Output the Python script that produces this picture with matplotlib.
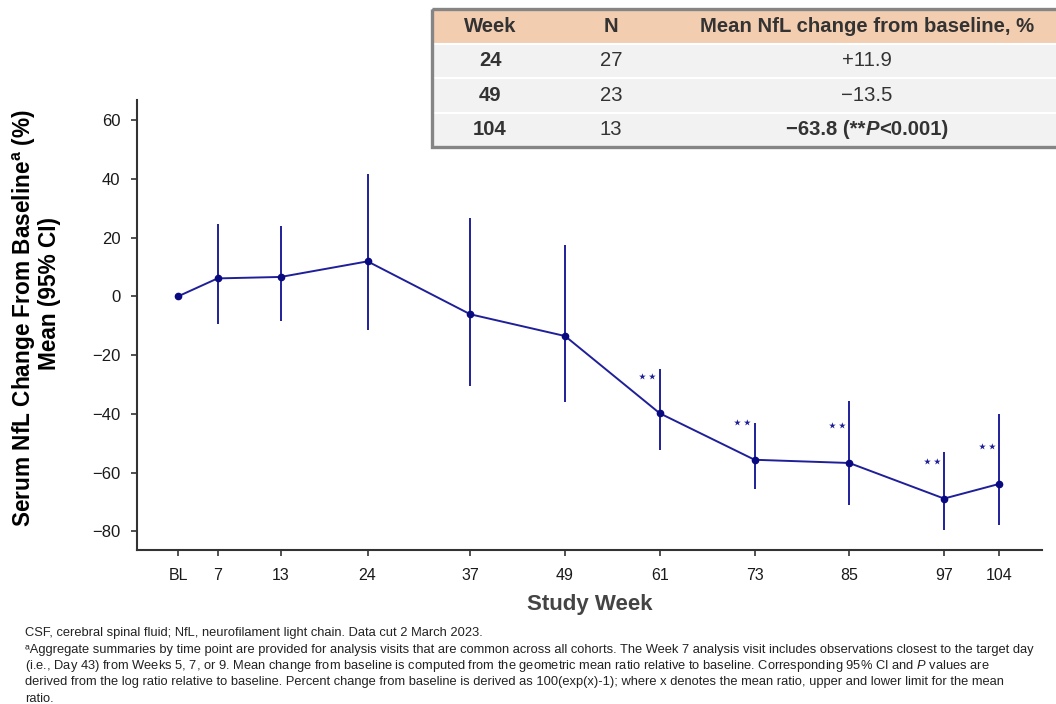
import matplotlib
matplotlib.use("Agg")
import matplotlib.pyplot as plt
from matplotlib.patches import Rectangle

plt.rcParams['font.family'] = ['Liberation Sans', 'DejaVu Sans']
plt.rcParams['mathtext.fontset'] = 'custom'
plt.rcParams['mathtext.rm'] = 'Liberation Sans'
plt.rcParams['mathtext.bf'] = 'Liberation Sans:bold'
plt.rcParams['mathtext.it'] = 'Liberation Sans:italic'

# Study visits; the Week 7 visit pools Weeks 5-9 and is plotted at week 5
visit_labels = ['BL', '7', '13', '24', '37', '49', '61', '73', '85', '97', '104']
visit_pos = [0, 5, 13, 24, 37, 49, 61, 73, 85, 97, 104]

# Mean % change from baseline with 95% CI
mean_change = [0.0, 6.1, 6.6, 11.9, -6.1, -13.5, -39.8, -55.6, -56.7, -68.8, -63.8]
ci_upper = [0.0, 24.7, 24.1, 41.6, 26.8, 17.4, -24.7, -43.2, -35.6, -52.8, -40.1]
ci_lower = [0.0, -9.5, -8.3, -11.6, -30.6, -36.0, -52.2, -65.4, -71.0, -79.4, -77.8]
significant = [False, False, False, False, False, False, True, True, True, True, True]

# Summary table
tbl_header = ['Week', 'N', 'Mean NfL change from baseline, %']
tbl_week = ['24', '49', '104']
tbl_n = ['27', '23', '13']
tbl_mean = ['+11.9', '\u221213.5', None]
tbl_last = ['\u221263.8 (**', 'P', '<0.001)']

LINE = '#1f1f9a'
DOT = '#0a0a80'
AXC = '#333333'
TXT = '#333333'

fig = plt.figure(figsize=(10.56, 7.04), dpi=100)
ax = fig.add_axes([137 / 1056, 1 - 550 / 704, (1042 - 137) / 1056, 450 / 704])

ax.vlines(visit_pos[1:], ci_lower[1:], ci_upper[1:], color=LINE, lw=1.4, zorder=2)
ax.plot(visit_pos, mean_change, color=LINE, lw=1.4, marker='o', ms=4.5,
        mfc=DOT, mec=DOT, zorder=3)

# significance stars sit a fixed distance above the mean, just left of the bar
for x, m, sig in zip(visit_pos, mean_change, significant):
    if sig:
        ax.text(x - 0.1, m + 12.3, '\u22c6\u22c6', ha='right', va='center',
                fontsize=12.5, color=LINE, family=['DejaVu Sans'])

ax.set_xlim(-5.2, 109.4)
ax.set_ylim(-86.3, 66.8)
ax.set_xticks(visit_pos)
ax.set_xticklabels(visit_labels, fontsize=11.5)
ax.set_yticks(range(-80, 61, 20))
ax.set_yticklabels([str(v).replace('-', '\u2212') for v in range(-80, 61, 20)], fontsize=12)
ax.tick_params(axis='both', direction='out', length=4, width=1.2, color=AXC,
               labelcolor='#1a1a1a')
ax.tick_params(axis='x', pad=9)
ax.tick_params(axis='y', pad=8)
for side in ['top', 'right']:
    ax.spines[side].set_visible(False)
for side in ['left', 'bottom']:
    ax.spines[side].set_color(AXC)
    ax.spines[side].set_linewidth(1.5)

ax.set_xlabel('Study Week', fontsize=16, fontweight='bold', color='#444444', labelpad=8)
fig.text(24 / 1056, 1 - 318 / 704, r'Serum NfL Change From Baseline$^{\mathbf{a}}$ (%)',
         rotation=90, ha='center', va='center', fontsize=16.3, fontweight='bold')
fig.text(50 / 1056, 1 - 293 / 704, 'Mean (95% CI)',
         rotation=90, ha='center', va='center', fontsize=16.3, fontweight='bold')

# Summary table drawn in pixel units
tx = fig.add_axes([0, 0, 1, 1], zorder=5)
tx.set_xlim(0, 1056)
tx.set_ylim(704, 0)
tx.axis('off')
top, row_h = 9, 34.5
left, right = 432, 1070
tx.add_patch(Rectangle((left, top), right - left, row_h, facecolor='#f3cdb0', edgecolor='none'))
for i in range(3):
    tx.add_patch(Rectangle((left, top + row_h * (i + 1)), right - left, row_h,
                           facecolor='#f2f2f2', edgecolor='none'))
    tx.plot([left, right], [top + row_h * (i + 1)] * 2, color='white', lw=1.5, zorder=2)
tx.add_patch(Rectangle((left, top), right - left, row_h * 4, facecolor='none',
                       edgecolor='#858585', lw=2.4, zorder=4))

TFS = 14.6
col_x = [490, 611, 867]
for cx, h in zip(col_x, tbl_header):
    tx.text(cx, top + row_h / 2, h, ha='center', va='center', fontsize=TFS,
            fontweight='bold', color=TXT)
for i, (w, n, m) in enumerate(zip(tbl_week, tbl_n, tbl_mean)):
    y = top + row_h * (i + 1.5)
    tx.text(col_x[0], y, w, ha='center', va='center', fontsize=TFS,
            fontweight='bold', color=TXT)
    tx.text(col_x[1], y, n, ha='center', va='center', fontsize=TFS, color=TXT)
    if m is not None:
        tx.text(col_x[2], y, m, ha='center', va='center', fontsize=TFS, color=TXT)

# last row value: bold text with an italic P, laid out piece by piece
y_last = top + row_h * 3.5
styles = ['normal', 'italic', 'normal']
renderer = fig.canvas.get_renderer()
pieces = [tx.text(0, y_last, s, ha='left', va='center', fontsize=TFS,
                  fontweight='bold', style=st, color=TXT)
          for s, st in zip(tbl_last, styles)]
widths = [p.get_window_extent(renderer).width for p in pieces]
x0 = col_x[2] - sum(widths) / 2
for p, wd in zip(pieces, widths):
    p.set_x(x0)
    x0 += wd

footnote = [
    'CSF, cerebral spinal fluid; NfL, neurofilament light chain. Data cut 2 March 2023.',
    '\u1d43Aggregate summaries by time point are provided for analysis visits that are common across all cohorts. '
    'The Week 7 analysis visit includes observations closest to the target day',
    '(i.e., Day 43) from Weeks 5, 7, or 9. Mean change from baseline is computed from the geometric mean ratio '
    'relative to baseline. Corresponding 95% CI and $\\it{P}$ values are',
    'derived from the log ratio relative to baseline. Percent change from baseline is derived as 100(exp(x)-1); '
    'where x denotes the mean ratio, upper and lower limit for the mean',
    'ratio.',
]
for i, line in enumerate(footnote):
    tx.text(25, 633 + i * 16.5, line, ha='left', va='center', fontsize=9.25,
            color='#222222')

fig.savefig('out.png', dpi=100, facecolor='white')
